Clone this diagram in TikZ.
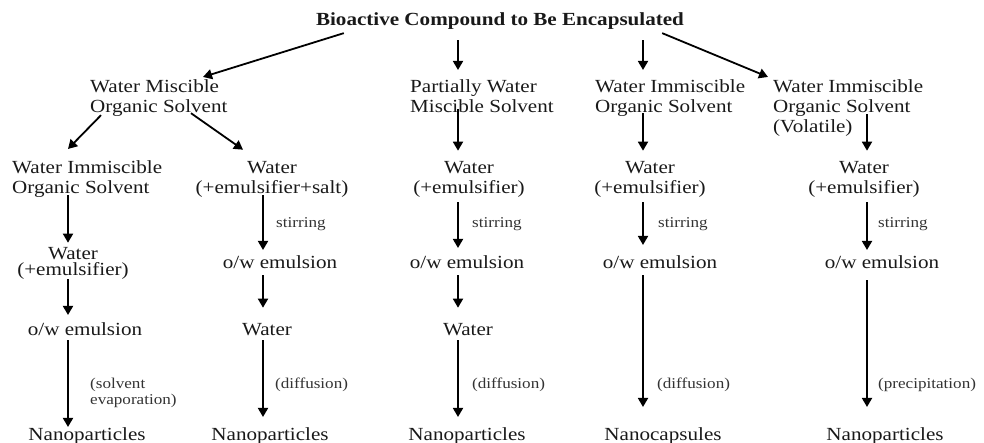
\documentclass[tikz,border=0pt]{standalone}
\usepackage{fontspec}
\setmainfont{Liberation Serif}[FakeStretch=1.14]
\usetikzlibrary{arrows.meta,calc}

\tikzset{
  lbl/.style={font=\fontsize{18.5}{20}\selectfont, inner sep=0pt, text=black!90},
  head/.style={lbl, font=\fontsize{18.5}{20}\selectfont\bfseries},
  sm/.style={font=\fontsize{15}{16}\selectfont, inner sep=0pt, text=black!80, anchor=base west, align=left},
  arr/.style={line width=1.8pt, -{Triangle[width=10pt,length=9pt]}}
}

\begin{document}
\begin{tikzpicture}[x=1pt,y=-1pt]
\useasboundingbox (0,0) rectangle (984,442);

% column positions of the vertical arrows
\coordinate (cA) at (68,0);
\coordinate (cB) at (263,0);
\coordinate (cC) at (458,0);
\coordinate (cD) at (643,0);
\coordinate (cE) at (867,0);

% title
\node[head, anchor=base] (title) at (500,25) {Bioactive Compound to Be Encapsulated};

% first level: solvents (base = baseline of the last line)
\node[lbl, anchor=base west, align=left] (r1a) at (90,112) {Water Miscible\\Organic Solvent};
\node[lbl, anchor=base west, align=left] (r1b) at (410,112) {Partially Water\\Miscible Solvent};
\node[lbl, anchor=base west, align=left] (r1c) at (595,112) {Water Immiscible\\Organic Solvent};
\node[lbl, anchor=base west, align=left] (r1d) at (773,132) {Water Immiscible\\Organic Solvent\\(Volatile)};

% second level
\node[lbl, anchor=base west, align=left] (r2a) at (12,193) {Water Immiscible\\Organic Solvent};
\node[lbl, anchor=base, align=center] (r2b) at (272,193) {Water\\(+emulsifier+salt)};
\node[lbl, anchor=base, align=center] (r2c) at (469,193) {Water\\(+emulsifier)};
\node[lbl, anchor=base, align=center] (r2d) at (650,193) {Water\\(+emulsifier)};
\node[lbl, anchor=base, align=center] (r2e) at (864,193) {Water\\(+emulsifier)};

% third level
\node[lbl, anchor=base, align=center, font=\fontsize{18.5}{16}\selectfont] (r3a) at (73,275) {Water\\(+emulsifier)};
\node[lbl, anchor=base] (r3b) at (280,268) {o/w emulsion};
\node[lbl, anchor=base] (r3c) at (467,268) {o/w emulsion};
\node[lbl, anchor=base] (r3d) at (660,268) {o/w emulsion};
\node[lbl, anchor=base] (r3e) at (882,268) {o/w emulsion};

% fourth level
\node[lbl, anchor=base] (r4a) at (85,335) {o/w emulsion};
\node[lbl, anchor=base] (r4b) at (267,335) {Water};
\node[lbl, anchor=base] (r4c) at (468,335) {Water};

% products
\node[lbl, anchor=base] (r5a) at (87,440) {Nanoparticles};
\node[lbl, anchor=base] (r5b) at (270,440) {Nanoparticles};
\node[lbl, anchor=base] (r5c) at (467,440) {Nanoparticles};
\node[lbl, anchor=base] (r5d) at (663,440) {Nanocapsules};
\node[lbl, anchor=base] (r5e) at (885,440) {Nanoparticles};

% process labels
\node[sm] (sB) at (276,227) {stirring};
\node[sm] (sC) at (472,227) {stirring};
\node[sm] (sD) at (658,227) {stirring};
\node[sm] (sE) at (878,227) {stirring};
\node[sm] (pA) at (90,404) {(solvent\\evaporation)};
\node[sm] (pB) at (275,388) {(diffusion)};
\node[sm] (pC) at (472,388) {(diffusion)};
\node[sm] (pD) at (657,388) {(diffusion)};
\node[sm] (pE) at (878,388) {(precipitation)};

% title to solvents
\draw[arr] ($(title.south west)+(28,4)$) -- ($(r1a.north west)+(113,-2)$);
\draw[arr] ($(title.south -| cC)+(0,11)$) -- ($(r1b.north -| cC)+(0,-9)$);
\draw[arr] ($(title.south -| cD)+(0,11)$) -- ($(r1c.north -| cD)+(0,-9)$);
\draw[arr] ($(title.south east)+(-22,4)$) -- ($(r1d.north west)+(-5,-2)$);

% solvents to aqueous phases
\draw[arr] ($(r1a.south west)+(11,-1)$) -- ($(r2a.north -| cA)+(0,-11)$);
\draw[arr] ($(r1a.south west)+(101,-3)$) -- ($(r2b.north)+(-29,-11)$);
\draw[arr] ($(r1b.south -| cC)+(0,-3)$) -- ($(r2c.north -| cC)+(0,-10)$);
\draw[arr] ($(r1c.south -| cD)+(0,-3)$) -- ($(r2d.north -| cD)+(0,-10)$);
\draw[arr] ($(r1d.south -| cE)+(0,-22)$) -- ($(r2e.north -| cE)+(0,-10)$);

% aqueous phases to emulsions
\draw[arr] ($(r2a.south -| cA)+(0,-2)$) -- ($(r3a.north -| cA)+(0,-4)$);
\draw[arr] ($(r2b.south -| cB)+(0,-2)$) -- ($(r3b.north -| cB)+(0,-5)$);
\draw[arr] ($(r2c.south -| cC)+(0,5)$) -- ($(r3c.north -| cC)+(0,-7)$);
\draw[arr] ($(r2d.south -| cD)+(0,5)$) -- ($(r3d.north -| cD)+(0,-10)$);
\draw[arr] ($(r2e.south -| cE)+(0,5)$) -- ($(r3e.north -| cE)+(0,-5)$);

% third to fourth level
\draw[arr] ($(r3a.south -| cA)+(0,0)$) -- ($(r4a.north -| cA)+(0,-7)$);
\draw[arr] ($(r3b.south -| cB)+(0,7)$) -- ($(r4b.north -| cB)+(0,-15)$);
\draw[arr] ($(r3c.south -| cC)+(0,7)$) -- ($(r4c.north -| cC)+(0,-15)$);
\draw[arr] ($(r3d.south -| cD)+(0,7)$) -- ($(r5d.north -| cD)+(0,-20)$);
\draw[arr] ($(r3e.south -| cE)+(0,12)$) -- ($(r5e.north -| cE)+(0,-20)$);

% fourth level to products
\draw[arr] ($(r4a.south -| cA)+(0,5)$) -- ($(r5a.north -| cA)+(0,0)$);
\draw[arr] ($(r4b.south -| cB)+(0,5)$) -- ($(r5b.north -| cB)+(0,-10)$);
\draw[arr] ($(r4c.south -| cC)+(0,5)$) -- ($(r5c.north -| cC)+(0,-10)$);
\end{tikzpicture}
\end{document}
